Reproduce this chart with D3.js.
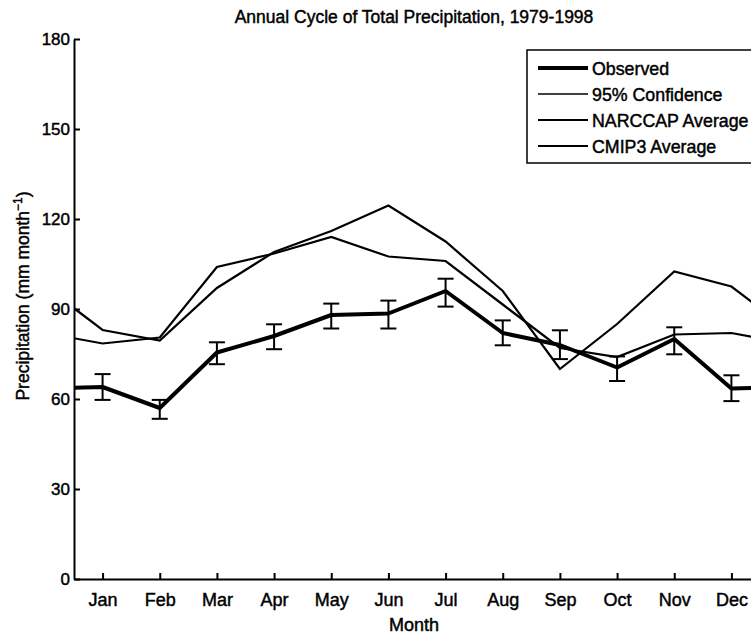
<!DOCTYPE html>
<html>
<head>
<meta charset="utf-8">
<script src="https://cdn.jsdelivr.net/npm/d3@7"></script>
<style>
  body { margin: 0; background: #fff; }
  svg { font-family: "Liberation Sans", Arial, Helvetica, sans-serif; }
  svg text { fill: #000; stroke: #000; stroke-width: 0.45px; }
  .axis path, .axis line { stroke: #000; stroke-width: 2; }
  .axis text { font-size: 17px; }
</style>
</head>
<body>
<script>
// Chart data (mm / month)
var months = ["Jan", "Feb", "Mar", "Apr", "May", "Jun", "Jul", "Aug", "Sep", "Oct", "Nov", "Dec"];
var observed = [64, 57, 75.5, 81, 88, 88.5, 96, 82, 78, 70.5, 80, 63.5];
var ciLow  = [59.7, 53.4, 71.6, 76.6, 83.5, 83.5, 90.8, 77.9, 73.3, 66, 74.9, 59.3];
var ciHigh = [68.3, 59.7, 78.9, 84.9, 91.8, 92.8, 100.1, 86.2, 82.9, 74.2, 83.9, 67.9];
var narccap = [83, 79.5, 97, 109, 116, 124.5, 112.5, 96, 70, 85, 102.5, 97.5];
var cmip3 = [78.5, 80.5, 104, 108.5, 114, 107.5, 106, 91.5, 77, 74, 81.5, 82];
var yTicks = [0, 30, 60, 90, 120, 150, 180];
var legendLabels = ["Observed", "95% Confidence", "NARCCAP Average", "CMIP3 Average"];

var width = 751, height = 636;

// Set the ranges (the figure is cut off on the right)
var x = d3.scaleLinear().domain([0.5, 12.5]).range([74, 760]);
var y = d3.scaleLinear().domain([0, 180]).range([579, 39]);

var svg = d3.select("body")
    .append("svg")
        .attr("width", width)
        .attr("height", height);

svg.append("clipPath")
    .attr("id", "plot-clip")
  .append("rect")
    .attr("x", x(0.5))
    .attr("y", 0)
    .attr("width", x(12.5) - x(0.5))
    .attr("height", y(0));

// annual cycle wraps round: Dec before Jan, Jan after Dec
function wrap(values) {
    var pts = values.map(function (v, i) { return { m: i + 1, v: v }; });
    pts.unshift({ m: 0, v: values[11] });
    pts.push({ m: 13, v: values[0] });
    return pts;
}

var line = d3.line()
    .x(function (d) { return x(d.m); })
    .y(function (d) { return y(d.v); });

var plot = svg.append("g").attr("clip-path", "url(#plot-clip)");

plot.append("path")
    .datum(wrap(narccap))
    .attr("fill", "none")
    .attr("stroke", "#000")
    .attr("stroke-width", 2.2)
    .attr("d", line);

plot.append("path")
    .datum(wrap(cmip3))
    .attr("fill", "none")
    .attr("stroke", "#000")
    .attr("stroke-width", 2.2)
    .attr("d", line);

plot.append("path")
    .datum(wrap(observed))
    .attr("fill", "none")
    .attr("stroke", "#000")
    .attr("stroke-width", 4)
    .attr("stroke-linejoin", "round")
    .attr("d", line);

// 95% confidence error bars
var bars = plot.selectAll(".ci")
    .data(months)
    .enter().append("g")
    .attr("class", "ci")
    .attr("stroke", "#000")
    .attr("stroke-width", 2);

bars.append("line")
    .attr("x1", function (d, i) { return x(i + 1); })
    .attr("x2", function (d, i) { return x(i + 1); })
    .attr("y1", function (d, i) { return y(ciLow[i]); })
    .attr("y2", function (d, i) { return y(ciHigh[i]); });

bars.append("line")
    .attr("x1", function (d, i) { return x(i + 1) - 8; })
    .attr("x2", function (d, i) { return x(i + 1) + 8; })
    .attr("y1", function (d, i) { return y(ciLow[i]); })
    .attr("y2", function (d, i) { return y(ciLow[i]); });

bars.append("line")
    .attr("x1", function (d, i) { return x(i + 1) - 8; })
    .attr("x2", function (d, i) { return x(i + 1) + 8; })
    .attr("y1", function (d, i) { return y(ciHigh[i]); })
    .attr("y2", function (d, i) { return y(ciHigh[i]); });

// Add the X Axis
svg.append("g")
    .attr("class", "x axis")
    .attr("transform", "translate(0," + y(0) + ")")
    .call(d3.axisBottom(x)
        .tickValues(d3.range(1, 13))
        .tickFormat(function (d) { return months[d - 1]; })
        .tickSizeInner(-6)
        .tickSizeOuter(0)
        .tickPadding(14))
    .selectAll("text")
        .style("font-size", "18px");

// Add the Y Axis
svg.append("g")
    .attr("class", "y axis")
    .attr("transform", "translate(" + x(0.5) + ",0)")
    .call(d3.axisLeft(y)
        .tickValues(yTicks)
        .tickSizeInner(-6)
        .tickSizeOuter(0)
        .tickPadding(4));

// Title and axis labels
svg.append("text")
    .attr("x", 414)
    .attr("y", 23)
    .attr("text-anchor", "middle")
    .style("font-size", "17.5px")
    .text("Annual Cycle of Total Precipitation, 1979-1998");

svg.append("text")
    .attr("x", 414)
    .attr("y", 631)
    .attr("text-anchor", "middle")
    .style("font-size", "18px")
    .text("Month");

var ylab = svg.append("text")
    .attr("transform", "translate(29,296) rotate(-90)")
    .attr("text-anchor", "middle")
    .style("font-size", "17.5px");
ylab.append("tspan").text("Precipitation (mm month");
ylab.append("tspan").attr("dy", "-7").style("font-size", "12px").text("\u22121");
ylab.append("tspan").attr("dy", "7").text(")");

// Legend
var legend = svg.append("g").attr("transform", "translate(527,50)");

legend.append("rect")
    .attr("width", 240)
    .attr("height", 113)
    .attr("fill", "#fff")
    .attr("stroke", "#000")
    .attr("stroke-width", 1.5);

var legendWidths = [4, 1.3, 2.2, 2.2];

var item = legend.selectAll(".item")
    .data(legendLabels)
    .enter().append("g")
    .attr("class", "item")
    .attr("transform", function (d, i) { return "translate(0," + (18 + i * 26) + ")"; });

item.append("line")
    .attr("x1", 11)
    .attr("x2", 61)
    .attr("stroke", "#000")
    .attr("stroke-width", function (d, i) { return legendWidths[i]; });

item.append("text")
    .attr("x", 65)
    .attr("dy", "0.42em")
    .style("font-size", "17.8px")
    .text(function (d) { return d; });
</script>
</body>
</html>
